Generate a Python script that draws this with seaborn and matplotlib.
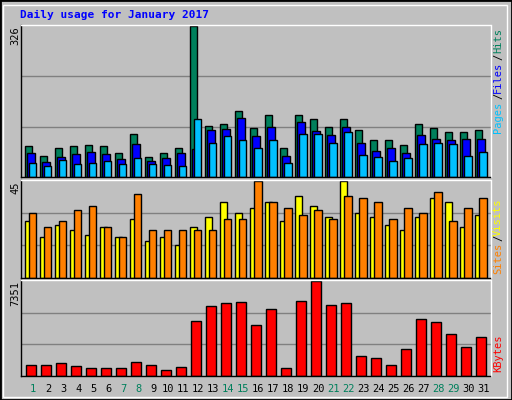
import matplotlib
matplotlib.use("Agg")
import matplotlib.pyplot as plt
import seaborn as sns
import pandas as pd
import numpy as np

days = list(range(1, 32))
hits = [68,46,63,66,70,68,52,92,44,52,63,326,110,114,143,105,134,63,134,125,108,125,101,81,79,70,114,105,97,97,101]
files = [52,32,44,50,55,50,39,72,35,41,52,61,101,103,128,88,108,46,119,99,90,108,74,57,63,52,90,83,81,83,83]
pages = [30,24,37,28,30,35,28,41,28,26,24,125,74,88,81,63,81,30,92,92,74,97,48,44,35,41,72,74,72,46,55]
visits = [26.4,19,24.5,22,20,23.5,19,27.4,17,19,15,23.5,28.4,35.2,30.3,32.3,35.2,26.4,38,33.3,28.4,45,30.3,28.4,24.5,22,28.4,37.2,35.2,23.5,29.3]
sites = [30.3,23.5,26.4,31.3,33.3,23.5,19,39,22,22,22,22,22,27.4,27.4,45,35.2,32.3,29.3,31.3,27.4,38,37.2,35.2,27.4,32.3,30.3,40,26.4,32.3,37.2]
kbytes = [889,889,969,808,646,646,646,1050,889,485,727,4282,5413,5655,5736,3959,5170,646,5817,7351,5494,5655,1535,1373,889,2100,4443,4201,3232,2262,2989]
weekend = [1,7,8,14,15,21,22,28,29]

BG = "#c0c0c0"
sns.set_theme(style="white")
plt.rcParams['font.family'] = ['DejaVu Sans Mono', 'DejaVu Sans']

fig = plt.figure(figsize=(5.12, 4.0), dpi=100, facecolor=BG)
W, H = 512, 400
def ax_at(x0, y0, x1, y1):
    return fig.add_axes([x0/W, 1-y1/H, (x1-x0)/W, (y1-y0)/H])

axes = [ax_at(20.5, 24.7, 490.5, 177), ax_at(20.5, 180, 490.5, 277.5), ax_at(20.5, 280, 490.5, 376)]
df = pd.DataFrame(dict(day=days, hits=hits, files=files, pages=pages, visits=visits, sites=sites, kbytes=kbytes))

def bars(ax, col, color, offset, width):
    n0 = len(ax.patches)
    sns.barplot(data=df, x="day", y=col, ax=ax, native_scale=True, color=color,
                saturation=1, width=width, edgecolor="black", linewidth=1)
    for p in ax.patches[n0:]:
        p.set_x(p.get_x() + offset)

bars(axes[0], "hits", "#00805c", -0.16, 0.49)
bars(axes[0], "files", "#0000ff", -0.02, 0.49)
bars(axes[0], "pages", "#00c0ff", 0.11, 0.49)
bars(axes[1], "visits", "#ffff00", -0.16, 0.49)
bars(axes[1], "sites", "#ff8000", 0.11, 0.49)
bars(axes[2], "kbytes", "#ff0000", 0.0, 0.67)

tops = [326, 45, 7351]
for ax, top in zip(axes, tops):
    ax.set_facecolor(BG)
    ax.set_xlim(0.29, 31.62)
    ax.set_ylim(0, top * 1.01)
    for g in (top/3, 2*top/3):
        ax.axhline(g, color="#808080", lw=1, zorder=0)
    ax.set_xticks([]); ax.set_yticks([])
    ax.set_xlabel(""); ax.set_ylabel("")
    for s in ("left", "bottom"):
        ax.spines[s].set_color("black")
    for s in ("top", "right"):
        ax.spines[s].set_color("white")
    for s in ax.spines.values():
        s.set_linewidth(1)

fig.patches.append(plt.Rectangle((0, 0), 1, 1, transform=fig.transFigure, fill=False,
                                 edgecolor="black", lw=2))
fig.patches.append(plt.Rectangle((3/W, 3/H), 1-8/W, 1-8/H, transform=fig.transFigure, fill=False,
                                 edgecolor="white", lw=1))

fig.text(20/W, 1-15/H, "Daily usage for January 2017", color="#0000ff", fontsize=8,
         fontweight="bold", va="center", ha="left")

for label, y in zip(["326", "45", "7351"], [26, 181, 281]):
    fig.text(15/W, 1-y/H, label, rotation=90, fontsize=7.5, ha="center", va="top", color="black")

def right_label(parts, ytop):
    y = ytop
    for txt, col in parts:
        fig.text(498/W, 1-y/H, txt, rotation=90, fontsize=7.5, ha="center", va="top", color=col)
        y += len(txt) * 5.6 + 3
right_label([("Hits", "#00805c"), ("/", "black"), ("Files", "#0000ff"), ("/", "black"), ("Pages", "#00c0ff")], 28)
right_label([("Visits", "#ffff00"), ("/", "black"), ("Sites", "#ff8000")], 198)
right_label([("KBytes", "#ff0000")], 334)

for d in days:
    x = axes[2].transData.transform((d, 0))[0] / fig.bbox.width
    fig.text(x + 2/W, 1-389/H, str(d), ha="center", va="center", fontsize=7.5,
             color="#00805c" if d in weekend else "black")

fig.savefig("out.png", dpi=100, facecolor=BG)
